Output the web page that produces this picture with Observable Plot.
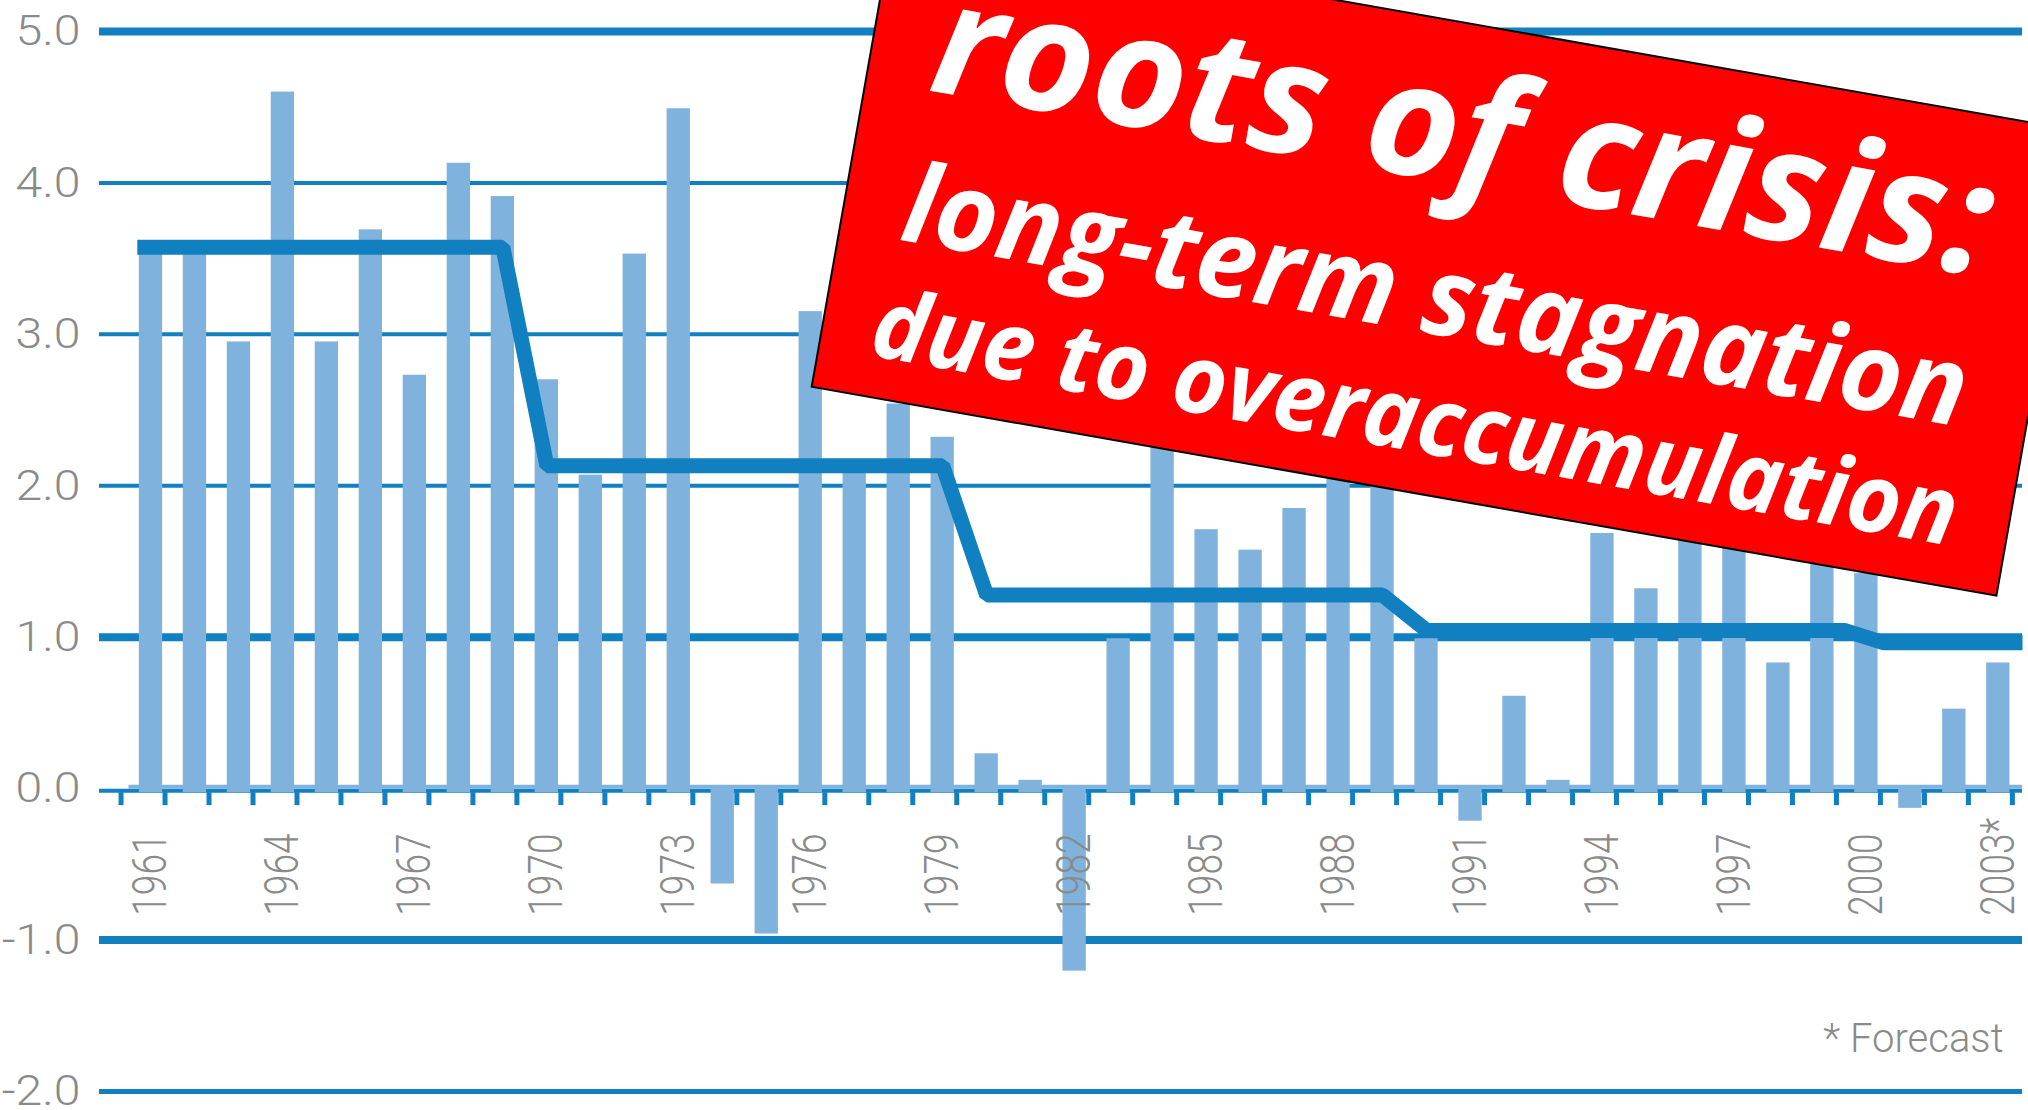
<!DOCTYPE html>
<html>
<head>
<meta charset="utf-8">
<script src="https://cdn.jsdelivr.net/npm/d3@7"></script>
<script src="https://cdn.jsdelivr.net/npm/@observablehq/plot@0.6"></script>
<style>
  html, body { margin: 0; padding: 0; background: #ffffff; overflow: hidden; width: 2028px; height: 1110px; }
  #chart svg { display: block; }
</style>
</head>
<body>
<div id="chart"></div>
<script>
// ---- data ----
const years = [1961, 1962, 1963, 1964, 1965, 1966, 1967, 1968, 1969, 1970,
               1971, 1972, 1973, 1974, 1975, 1976, 1977, 1978, 1979, 1980,
               1981, 1982, 1983, 1984, 1985, 1986, 1987, 1988, 1989, 1990,
               1991, 1992, 1993, 1994, 1995, 1996, 1997, 1998, 1999, 2000,
               2001, 2002, 2003];
const growth = [3.60, 3.58, 2.95, 4.60, 2.95, 3.69, 2.73, 4.13, 3.91, 2.70,
                2.07, 3.53, 4.49, -0.63, -0.96, 3.15, 2.16, 2.54, 2.32, 0.23,
                0.055, -1.205, 0.99, 2.75, 1.71, 1.575, 1.85, 2.45, 2.40, 0.99,
                -0.215, 0.61, 0.055, 1.685, 1.32, 1.72, 1.62, 0.83, 1.50, 1.42,
                -0.13, 0.525, 0.83];
// long-term average growth (step line): breakpoints
const trendYears  = [1960.69, 1969, 1970, 1979, 1980, 1989, 1990, 1999.5, 2000.4, 2003.55];
const trendLevels = [3.576, 3.576, 2.133, 2.133, 1.278, 1.278, 1.045, 1.045, 0.963, 0.963];
// axis ticks / labels
const tickYears = [1960, 1961, 1962, 1963, 1964, 1965, 1966, 1967, 1968, 1969, 1970,
                   1971, 1972, 1973, 1974, 1975, 1976, 1977, 1978, 1979, 1980,
                   1981, 1982, 1983, 1984, 1985, 1986, 1987, 1988, 1989, 1990,
                   1991, 1992, 1993, 1994, 1995, 1996, 1997, 1998, 1999, 2000,
                   2001, 2002, 2003];
const yTicks = [5, 4, 3, 2, 1, 0, -1, -2];
const yTickLabels = ["5.0", "4.0", "3.0", "2.0", "1.0", "0.0", "-1.0", "-2.0"];
const xLabelYears = [1961, 1964, 1967, 1970, 1973, 1976, 1979, 1982, 1985, 1988, 1991, 1994, 1997, 2000, 2003];
const xLabels = ["1961", "1964", "1967", "1970", "1973", "1976", "1979", "1982", "1985", "1988", "1991", "1994", "1997", "2000", "2003*"];
const note = "* Forecast";
const bannerLines = ["roots of crisis:", "long-term stagnation", "due to overaccumulation"];

// ---- styling ----
const DARK = "#1080c0", LIGHT = "#80b2de", GRAY = "#8a8a8a";
const LABEL_FONT = "Roboto, 'Liberation Sans', Arial, sans-serif";
const half = 0.265;           // half bar width in years
const xStart = 1959.83, xEnd = 2003.55;
const strongLines = [5, 1, -1];
const mediumLines = [-2];
const thinLines = [4, 3, 2];

const data = years.map((year, i) => ({year, value: growth[i]}));
const trend = trendYears.map((year, i) => ({year, value: trendLevels[i]}));

const chart = Plot.plot({
  width: 2028,
  height: 1110,
  marginTop: 31,
  marginBottom: 19,
  marginLeft: 99,
  marginRight: 6,
  x: {type: "linear", domain: [xStart, xEnd], axis: null},
  y: {domain: [-2, 5], axis: null},
  style: {background: "#ffffff", overflow: "hidden"},
  marks: [
    Plot.ruleY(strongLines, {stroke: DARK, strokeWidth: 8}),
    Plot.ruleY(mediumLines, {stroke: DARK, strokeWidth: 5}),
    Plot.ruleY(thinLines, {stroke: DARK, strokeWidth: 4}),
    // zero axis: dark line with light baseline strip above it
    Plot.ruleY([0], {stroke: DARK, strokeWidth: 4, dy: 2}),
    Plot.ruleY([0], {x1: years[0] - 0.5, x2: xEnd, stroke: LIGHT, strokeWidth: 4, dy: -2}),
    Plot.ruleX(tickYears, {x: d => d + 0.32, y1: 0, y2: 0, insetTop: 4, insetBottom: -17, stroke: DARK, strokeWidth: 5}),
    // bars
    Plot.rectY(data.filter(d => d.value >= 0), {x1: d => d.year - half, x2: d => d.year + half, y1: 0, y2: "value", fill: LIGHT, insetBottom: -4}),
    Plot.rectY(data.filter(d => d.value < 0), {x1: d => d.year - half, x2: d => d.year + half, y1: 0, y2: "value", fill: LIGHT}),
    // long-term trend
    Plot.line(trend, {x: "year", y: "value", stroke: DARK, strokeWidth: 15, strokeLinecap: "butt", strokeLinejoin: "miter", curve: "linear"}),
    // y labels (text group 0)
    Plot.text(yTicks, {y: d => d, text: (d, i) => yTickLabels[i], frameAnchor: "left", textAnchor: "end", dx: -19,
      fontSize: 43, fontFamily: LABEL_FONT, fontWeight: 300, fill: GRAY}),
    // x labels (text group 1)
    Plot.text(xLabelYears, {x: d => d, y: 0, text: (d, i) => xLabels[i], rotate: -90, textAnchor: "start", dy: 127,
      fontSize: 37, fontFamily: LABEL_FONT, fontWeight: 300, fill: GRAY}),
    // footnote (text group 2)
    Plot.text([note], {frameAnchor: "bottom-right", textAnchor: "end", lineAnchor: "bottom", dx: -19, dy: -40,
      fontSize: 40, fontFamily: LABEL_FONT, fontWeight: 300, fill: GRAY})
  ]
});

document.getElementById("chart").appendChild(chart);

const svg = d3.select(chart);
const textGroups = svg.selectAll('g[aria-label="text"]').nodes();
// the original's digit labels are wide / squat
if (textGroups[0]) {
  d3.select(textGroups[0]).selectAll("text").each(function () {
    const L = this.getComputedTextLength();
    if (L > 0) {
      this.setAttribute("textLength", (L * 1.12).toFixed(1));
      this.setAttribute("lengthAdjust", "spacingAndGlyphs");
    }
  });
}
if (textGroups[1]) {
  d3.select(textGroups[1]).selectAll("text").attr("transform", function () {
    return (this.getAttribute("transform") || "") + " scale(1,1.29)";
  });
}

// red rotated banner
const banner = svg.append("g")
  .attr("transform", "translate(811.7,386.8) rotate(10)")
  .attr("text-anchor", "start");
banner.append("rect")
  .attr("x", 0).attr("y", -472).attr("width", 1203).attr("height", 472)
  .attr("fill", "#ff0000").attr("stroke", "#000000").attr("stroke-width", 2);
const bannerLayout = [
  {x: 62, y: -312, size: 157, len: 1072},
  {x: 60, y: -160, size: 110, len: 1078},
  {x: 50, y: -41, size: 96, len: 1100}
];
bannerLines.forEach((t, i) => {
  const L = bannerLayout[i];
  banner.append("text")
    .attr("x", L.x).attr("y", L.y)
    .attr("text-anchor", "start")
    .attr("font-family", "'Open Sans', 'Noto Sans', sans-serif")
    .attr("font-weight", 700)
    .attr("font-style", "italic")
    .attr("font-size", L.size)
    .attr("fill", "#ffffff")
    .attr("textLength", L.len)
    .attr("lengthAdjust", "spacingAndGlyphs")
    .text(t);
});
</script>
</body>
</html>
